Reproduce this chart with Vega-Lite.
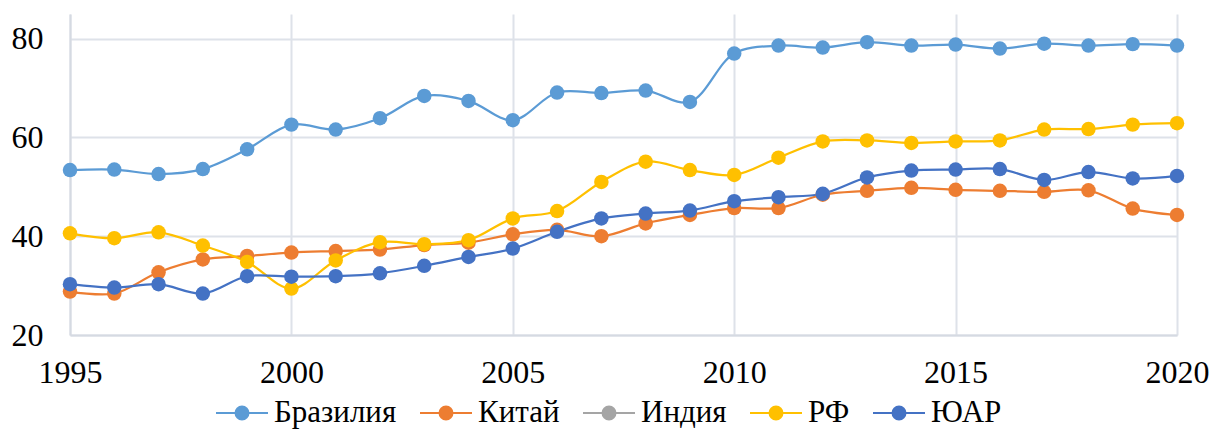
{
  "$schema": "https://vega.github.io/schema/vega-lite/v6.json",
  "width": 1107,
  "height": 321,
  "autosize": {"type": "none"},
  "padding": {"left": 70, "top": 14, "right": 35, "bottom": 95},
  "background": "white",
  "data": {
    "values": [
      {"year": 1995, "country": "Бразилия", "value": 53.4},
      {"year": 1996, "country": "Бразилия", "value": 53.5},
      {"year": 1997, "country": "Бразилия", "value": 52.6},
      {"year": 1998, "country": "Бразилия", "value": 53.6},
      {"year": 1999, "country": "Бразилия", "value": 57.6},
      {"year": 2000, "country": "Бразилия", "value": 62.6},
      {"year": 2001, "country": "Бразилия", "value": 61.6},
      {"year": 2002, "country": "Бразилия", "value": 63.9},
      {"year": 2003, "country": "Бразилия", "value": 68.4},
      {"year": 2004, "country": "Бразилия", "value": 67.4},
      {"year": 2005, "country": "Бразилия", "value": 63.5},
      {"year": 2006, "country": "Бразилия", "value": 69.1},
      {"year": 2007, "country": "Бразилия", "value": 69.0},
      {"year": 2008, "country": "Бразилия", "value": 69.5},
      {"year": 2009, "country": "Бразилия", "value": 67.2},
      {"year": 2010, "country": "Бразилия", "value": 77.0},
      {"year": 2011, "country": "Бразилия", "value": 78.6},
      {"year": 2012, "country": "Бразилия", "value": 78.2},
      {"year": 2013, "country": "Бразилия", "value": 79.3},
      {"year": 2014, "country": "Бразилия", "value": 78.6},
      {"year": 2015, "country": "Бразилия", "value": 78.8},
      {"year": 2016, "country": "Бразилия", "value": 78.0},
      {"year": 2017, "country": "Бразилия", "value": 79.0},
      {"year": 2018, "country": "Бразилия", "value": 78.6},
      {"year": 2019, "country": "Бразилия", "value": 78.9},
      {"year": 2020, "country": "Бразилия", "value": 78.6},
      {"year": 1995, "country": "Китай", "value": 28.8},
      {"year": 1996, "country": "Китай", "value": 28.4},
      {"year": 1997, "country": "Китай", "value": 32.7},
      {"year": 1998, "country": "Китай", "value": 35.3},
      {"year": 1999, "country": "Китай", "value": 36.0},
      {"year": 2000, "country": "Китай", "value": 36.7},
      {"year": 2001, "country": "Китай", "value": 37.0},
      {"year": 2002, "country": "Китай", "value": 37.3},
      {"year": 2003, "country": "Китай", "value": 38.2},
      {"year": 2004, "country": "Китай", "value": 38.7},
      {"year": 2005, "country": "Китай", "value": 40.4},
      {"year": 2006, "country": "Китай", "value": 41.3},
      {"year": 2007, "country": "Китай", "value": 40.0},
      {"year": 2008, "country": "Китай", "value": 42.6},
      {"year": 2009, "country": "Китай", "value": 44.3},
      {"year": 2010, "country": "Китай", "value": 45.7},
      {"year": 2011, "country": "Китай", "value": 45.7},
      {"year": 2012, "country": "Китай", "value": 48.4},
      {"year": 2013, "country": "Китай", "value": 49.2},
      {"year": 2014, "country": "Китай", "value": 49.8},
      {"year": 2015, "country": "Китай", "value": 49.4},
      {"year": 2016, "country": "Китай", "value": 49.2},
      {"year": 2017, "country": "Китай", "value": 49.0},
      {"year": 2018, "country": "Китай", "value": 49.3},
      {"year": 2019, "country": "Китай", "value": 45.6},
      {"year": 2020, "country": "Китай", "value": 44.3},
      {"year": 1995, "country": "РФ", "value": 40.6},
      {"year": 1996, "country": "РФ", "value": 39.6},
      {"year": 1997, "country": "РФ", "value": 40.8},
      {"year": 1998, "country": "РФ", "value": 38.1},
      {"year": 1999, "country": "РФ", "value": 34.8},
      {"year": 2000, "country": "РФ", "value": 29.4},
      {"year": 2001, "country": "РФ", "value": 35.1},
      {"year": 2002, "country": "РФ", "value": 38.8},
      {"year": 2003, "country": "РФ", "value": 38.4},
      {"year": 2004, "country": "РФ", "value": 39.2},
      {"year": 2005, "country": "РФ", "value": 43.6},
      {"year": 2006, "country": "РФ", "value": 45.1},
      {"year": 2007, "country": "РФ", "value": 51.0},
      {"year": 2008, "country": "РФ", "value": 55.1},
      {"year": 2009, "country": "РФ", "value": 53.4},
      {"year": 2010, "country": "РФ", "value": 52.4},
      {"year": 2011, "country": "РФ", "value": 55.9},
      {"year": 2012, "country": "РФ", "value": 59.2},
      {"year": 2013, "country": "РФ", "value": 59.4},
      {"year": 2014, "country": "РФ", "value": 58.9},
      {"year": 2015, "country": "РФ", "value": 59.2},
      {"year": 2016, "country": "РФ", "value": 59.4},
      {"year": 2017, "country": "РФ", "value": 61.6},
      {"year": 2018, "country": "РФ", "value": 61.7},
      {"year": 2019, "country": "РФ", "value": 62.6},
      {"year": 2020, "country": "РФ", "value": 62.9},
      {"year": 1995, "country": "ЮАР", "value": 30.3},
      {"year": 1996, "country": "ЮАР", "value": 29.6},
      {"year": 1997, "country": "ЮАР", "value": 30.3},
      {"year": 1998, "country": "ЮАР", "value": 28.4},
      {"year": 1999, "country": "ЮАР", "value": 31.9},
      {"year": 2000, "country": "ЮАР", "value": 31.8},
      {"year": 2001, "country": "ЮАР", "value": 31.9},
      {"year": 2002, "country": "ЮАР", "value": 32.5},
      {"year": 2003, "country": "ЮАР", "value": 34.0},
      {"year": 2004, "country": "ЮАР", "value": 35.8},
      {"year": 2005, "country": "ЮАР", "value": 37.5},
      {"year": 2006, "country": "ЮАР", "value": 40.9},
      {"year": 2007, "country": "ЮАР", "value": 43.6},
      {"year": 2008, "country": "ЮАР", "value": 44.6},
      {"year": 2009, "country": "ЮАР", "value": 45.2},
      {"year": 2010, "country": "ЮАР", "value": 47.1},
      {"year": 2011, "country": "ЮАР", "value": 47.9},
      {"year": 2012, "country": "ЮАР", "value": 48.6},
      {"year": 2013, "country": "ЮАР", "value": 51.9},
      {"year": 2014, "country": "ЮАР", "value": 53.3},
      {"year": 2015, "country": "ЮАР", "value": 53.5},
      {"year": 2016, "country": "ЮАР", "value": 53.6},
      {"year": 2017, "country": "ЮАР", "value": 51.4},
      {"year": 2018, "country": "ЮАР", "value": 53.0},
      {"year": 2019, "country": "ЮАР", "value": 51.7},
      {"year": 2020, "country": "ЮАР", "value": 52.2}
    ]
  },
  "encoding": {
    "x": {
      "field": "year",
      "type": "quantitative",
      "scale": {"domain": [1995, 2020], "nice": false, "zero": false},
      "axis": {
        "values": [1995, 2000, 2005, 2010, 2015, 2020],
        "format": "d",
        "title": null,
        "ticks": false,
        "labelPadding": 22,
        "labelFlush": false,
        "labelFont": "Times New Roman, Liberation Serif, serif",
        "labelFontSize": 32,
        "labelColor": "#000000",
        "domainColor": "#D5DAE2",
        "domainWidth": 2,
        "grid": true,
        "gridColor": "#DEE2E9",
        "gridWidth": 2
      }
    },
    "y": {
      "field": "value",
      "type": "quantitative",
      "scale": {"domain": [20, 85], "nice": false, "zero": false},
      "axis": {
        "values": [20, 40, 60, 80],
        "title": null,
        "ticks": false,
        "labelPadding": 27,
        "labelFlush": false,
        "labelFont": "Times New Roman, Liberation Serif, serif",
        "labelFontSize": 32,
        "labelColor": "#000000",
        "domainColor": "#D5DAE2",
        "domainWidth": 2,
        "grid": true,
        "gridColor": "#DEE2E9",
        "gridWidth": 2
      }
    },
    "color": {
      "field": "country",
      "type": "nominal",
      "sort": null,
      "scale": {
        "domain": ["Бразилия", "Китай", "Индия", "РФ", "ЮАР"],
        "range": ["#5B9BD5", "#ED7D31", "#A5A5A5", "#FFC000", "#4472C4"]
      },
      "legend": {
        "orient": "none",
        "legendX": 145,
        "legendY": 372,
        "direction": "horizontal",
        "title": null,
        "labelFont": "Times New Roman, Liberation Serif, serif",
        "labelFontSize": 31,
        "labelColor": "#000000",
        "labelOffset": 5,
        "columnPadding": 19,
        "symbolType": "M-1,0H1M-0.25,0A0.25,0.25 0 1,1 0.25,0A0.25,0.25 0 1,1 -0.25,0Z",
        "symbolSize": 2704,
        "symbolStrokeWidth": 2,
        "symbolOpacity": 1,
        "encode": {
          "symbols": {
            "update": {
              "stroke": {"scale": "color", "field": "value"},
              "fill": {"scale": "color", "field": "value"},
              "strokeWidth": {"value": 2}
            }
          }
        }
      }
    }
  },
  "layer": [
    {
      "mark": {"type": "line", "interpolate": "catmull-rom", "strokeWidth": 2.25}
    },
    {
      "mark": {"type": "point", "filled": true, "opacity": 1, "size": 210, "strokeWidth": 0}
    }
  ],
  "config": {
    "view": {"stroke": null}
  }
}
